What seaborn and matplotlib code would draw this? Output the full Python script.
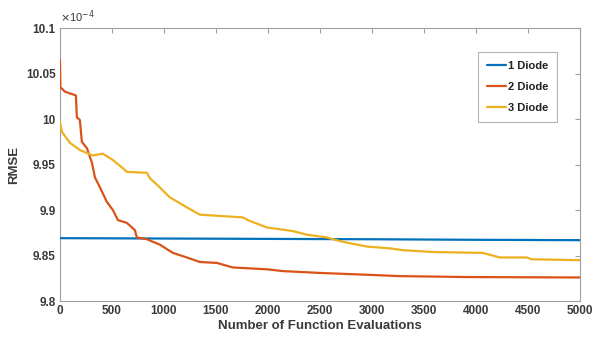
import pandas as pd
import matplotlib.pyplot as plt
import seaborn as sns

# RMSE values (x 1e-4)
evals_1 = [0, 1000, 2000, 3000, 4000, 5000]
rmse_1 = [9.8692, 9.8688, 9.8684, 9.868, 9.8674, 9.867]

evals_2 = [0, 5, 50, 154, 163, 192, 211, 260, 308, 337, 385, 452, 510, 558, 644,
           721, 740, 837, 962, 1087, 1221, 1346, 1510, 1663, 1990, 2144, 2500,
           2952, 3269, 3913, 5000]
rmse_2 = [10.065, 10.035, 10.03, 10.026, 10.002, 9.999, 9.975, 9.968, 9.952,
          9.936, 9.925, 9.909, 9.9, 9.889, 9.886, 9.878, 9.870, 9.868, 9.862,
          9.853, 9.848, 9.843, 9.842, 9.837, 9.835, 9.833, 9.831, 9.829,
          9.8275, 9.8265, 9.826]

evals_3 = [0, 19, 96, 192, 317, 413, 510, 606, 644, 837, 865, 933, 1058, 1221,
           1346, 1760, 1808, 1875, 1990, 2240, 2375, 2567, 2692, 2817, 2952,
           3173, 3298, 3587, 4067, 4231, 4490, 4538, 5000]
rmse_3 = [9.997, 9.986, 9.974, 9.966, 9.960, 9.962, 9.955, 9.946, 9.942, 9.941,
          9.935, 9.928, 9.914, 9.903, 9.895, 9.892, 9.889, 9.886, 9.881, 9.877,
          9.873, 9.870, 9.866, 9.863, 9.860, 9.858, 9.856, 9.854, 9.853, 9.848,
          9.848, 9.846, 9.845]

labels = ['1 Diode', '2 Diode', '3 Diode']
colors = ['#0072BD', '#D95319', '#EDB120']

df = pd.concat([
    pd.DataFrame({'evals': evals_1, 'rmse': rmse_1, 'model': labels[0]}),
    pd.DataFrame({'evals': evals_2, 'rmse': rmse_2, 'model': labels[1]}),
    pd.DataFrame({'evals': evals_3, 'rmse': rmse_3, 'model': labels[2]}),
])

sns.set_style('white')
plt.rcParams['font.family'] = ['Liberation Sans', 'DejaVu Sans']

fig = plt.figure(figsize=(5.99, 3.38), dpi=100)
ax = fig.add_axes([0.1, 0.109, 0.868, 0.808])

sns.lineplot(data=df, x='evals', y='rmse', hue='model', palette=colors,
             linewidth=1.6, sort=False, estimator=None, ax=ax, zorder=3)

ax.set_xlim(0, 5000)
ax.set_ylim(9.8, 10.1)
ax.set_xticks(range(0, 5001, 500))
ax.set_yticks([9.8, 9.85, 9.9, 9.95, 10, 10.05, 10.1])
ax.set_yticklabels(['9.8', '9.85', '9.9', '9.95', '10', '10.05', '10.1'])

for sp in ax.spines.values():
    sp.set_visible(True)
    sp.set_color('#a0a0a0')
    sp.set_linewidth(0.8)
    sp.set_zorder(1)
ax.tick_params(direction='in', length=3.5, width=0.8, color='#a0a0a0',
               top=True, right=True, labelsize=8.5, labelcolor='#3a3a3a', pad=3)
for lab in ax.get_xticklabels() + ax.get_yticklabels():
    lab.set_fontweight('bold')

ax.set_xlabel('Number of Function Evaluations', fontsize=9.5, fontweight='bold',
              color='#3a3a3a', labelpad=2)
ax.set_ylabel('RMSE', fontsize=9.5, fontweight='bold', color='#3a3a3a', labelpad=4)
ax.text(0.0, 1.01, r'$\times$10$^{-4}$', transform=ax.transAxes, fontsize=8,
        color='#3a3a3a', ha='left', va='bottom')

leg = ax.legend(loc='upper right', bbox_to_anchor=(0.967, 0.934), fontsize=8,
                frameon=True, fancybox=False, handlelength=1.7, handletextpad=0.2,
                labelspacing=1.0, borderpad=0.8, edgecolor='#a0a0a0')
leg.get_frame().set_linewidth(0.8)
for t in leg.get_texts():
    t.set_fontweight('bold')
    t.set_color('#222222')

fig.savefig('out.png', dpi=100)
